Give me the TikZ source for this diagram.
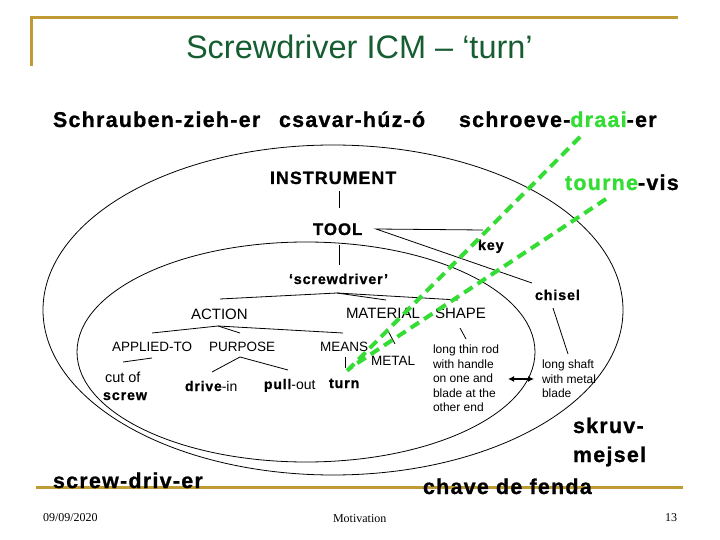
\documentclass[tikz,border=0pt]{standalone}
\usepackage{fontspec}
\setmainfont{Liberation Sans}
\newfontfamily\bsp[LetterSpace=6,BoldFeatures={FakeBold=1}]{Liberation Sans}
\newfontfamily\ser{Liberation Serif}
\usetikzlibrary{arrows.meta}
\definecolor{gold}{RGB}{192,155,52}
\definecolor{titlegreen}{RGB}{22,94,50}
\definecolor{hl}{RGB}{51,221,51}
\newcommand\myfs[1]{\fontsize{#1}{#1}\selectfont}
\begin{document}
\begin{tikzpicture}[x=1pt,y=-1pt,
  lbl/.style={anchor=base west, inner sep=0pt, outer sep=0pt},
  bw/.style={lbl, font=\bsp\bfseries\myfs{#1}},
  rg/.style={lbl, font=\myfs{#1}},
  blk/.style={anchor=north west, inner sep=0pt, outer sep=0pt, align=left, font=\fontsize{12}{14.5}\selectfont},
  conn/.style={draw=black, line width=0.8pt},
  gdash/.style={draw=hl, line width=4pt, dash pattern=on 10pt off 6pt},
  goldline/.style={draw=gold, line width=3pt}]
\useasboundingbox (0,0) rectangle (720,540);
\fill[white] (0,0) rectangle (720,540);

% frame
\coordinate (fa) at (31,66); \coordinate (fb) at (31,18); \coordinate (fc) at (678,18);
\draw[goldline] (fa) -- (fb) -- (fc);
\coordinate (bl) at (36,487); \coordinate (br) at (683,487);
\draw[goldline] (bl) -- (br);

% ellipses
\draw[conn] (333,310) ellipse [x radius=290, y radius=165];
\draw[conn] (306,352) ellipse [x radius=229, y radius=110];

% title
\node[rg=32.5, text=titlegreen] (title) at (186,59) {Screwdriver ICM – ‘turn’};

% words
\node[bw=21.4] (de) at (53,127) {Schrauben-zieh-er};
\node[bw=21.4] (hu) at (279,127) {csavar-húz-ó};
\node[bw=21.4] (nl) at (459,127) {schroeve-\textcolor{hl}{draai}-er};
\node[bw=17.8] (ins) at (270,184) {INSTRUMENT};
\node[bw=21.4] (fr) at (565,190) {\textcolor{hl}{tourne}-vis};
\node[bw=16.8] (tool) at (313,235) {TOOL};
\node[bw=14.3] (key) at (478,250) {key};
\node[bw=14.3] (chisel) at (535,300) {chisel};
\node[bw=14.3] (sd) at (289,284) {‘screwdriver’};
\node[rg=15] (act) at (191,319) {ACTION};
\node[rg=15] (mat) at (346,318) {MATERIAL};
\node[rg=15] (shape) at (435,318) {SHAPE};
\node[rg=13.5] (app) at (112,351) {APPLIED-TO};
\node[rg=13.5] (pur) at (209,351) {PURPOSE};
\node[rg=13.5] (means) at (320,351) {MEANS};
\node[rg=13.5] (metal) at (371,365) {METAL};
\node[rg=14.5] (cut) at (105,382) {cut of};
\node[bw=14.3] (screw) at (103,400) {screw};
\node[rg=14] (drive) at (185,391) {{\bsp\bfseries drive}-in};
\node[rg=14] (pull) at (264,389) {{\bsp\bfseries pull}-out};
\node[bw=14.3] (turn) at (329,388) {turn};
\node[blk] (rod) at (433,345.3) {long thin rod\\with handle\\on one and\\blade at the\\other end};
\node[blk] (shaft) at (542,360.3) {long shaft\\with metal\\blade};
\node[blk, font=\bsp\bfseries\fontsize{21.4}{29}\selectfont] (sv) at (573,417.5) {skruv-\\mejsel};
\node[bw=21.4] (pt) at (423,494) {chave de fenda};
\node[bw=21.4] (en) at (53,488) {screw-driv-er};

% footer
\node[lbl, font=\ser\myfs{12}] (date) at (43,521) {09/09/2020};
\node[lbl, font=\ser\myfs{12}] (mot) at (333,522) {Motivation};
\node[lbl, font=\ser\myfs{12}] (pg) at (665,521) {13};

% tree connectors
\coordinate (i1) at (339,191); \coordinate (t1) at (339,208);
\draw[conn] (i1) -- (t1);
\coordinate (t2) at (339,245); \coordinate (s1) at (339,265);
\draw[conn] (t2) -- (s1);
\coordinate (tk) at (376,229); \coordinate (k1) at (483,230); \coordinate (c1) at (532,283);
\draw[conn] (k1) -- (tk) -- (c1);
\coordinate (sa) at (337,293); \coordinate (a1) at (220,299);
\coordinate (m1) at (386,300); \coordinate (sh1) at (458,300);
\draw[conn] (a1) -- (sa) -- (m1); \draw[conn] (sa) -- (sh1);
\coordinate (aa) at (218,326); \coordinate (ap1) at (152,333);
\coordinate (pu1) at (240,333); \coordinate (me1) at (343,333);
\draw[conn] (ap1) -- (aa) -- (pu1); \draw[conn] (aa) -- (me1);
\coordinate (ap2) at (152,358); \coordinate (cu1) at (123,362);
\draw[conn] (ap2) -- (cu1);
\coordinate (pa) at (240,357); \coordinate (dr1) at (212,372); \coordinate (pl1) at (288,370);
\draw[conn] (dr1) -- (pa) -- (pl1);
\coordinate (me2) at (345,357); \coordinate (me3) at (345,368);
\draw[conn] (me2) -- (me3);
\coordinate (ma2) at (387,329); \coordinate (mt1) at (395,344);
\draw[conn] (ma2) -- (mt1);
\coordinate (sh2) at (460,328); \coordinate (sh3) at (466,339);
\draw[conn] (sh2) -- (sh3);
\coordinate (ch2) at (553,308); \coordinate (ch3) at (568,354);
\draw[conn] (ch2) -- (ch3);
\coordinate (ar1) at (508,379); \coordinate (ar2) at (534,379);
\draw[line width=1.8pt, {Latex[length=6pt,width=6pt]}-{Latex[length=6pt,width=6pt]}] (ar1) -- (ar2);

% green dashed
\coordinate (g1a) at (580,137); \coordinate (g1b) at (345,373);
\coordinate (g2a) at (606,199); \coordinate (g2b) at (350,368);
\draw[gdash] (g1a) -- (g1b);
\draw[gdash] (g2a) -- (g2b);
\end{tikzpicture}
\end{document}
